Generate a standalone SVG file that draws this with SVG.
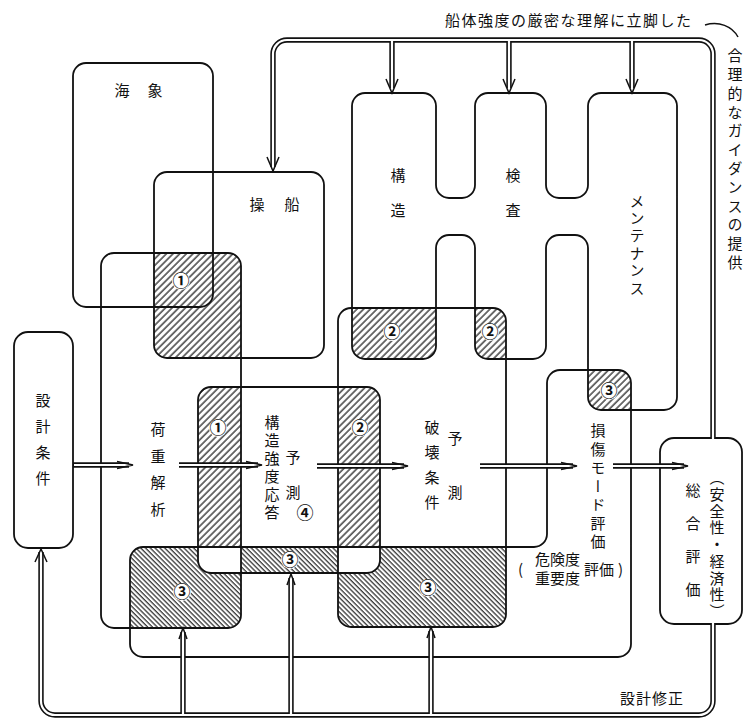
<svg xmlns="http://www.w3.org/2000/svg" xmlns:xlink="http://www.w3.org/1999/xlink" width="744" height="720" viewBox="0 0 744 720">
<style>
.box{fill:none;stroke:#111;stroke-width:1.8;}
.t{font-family:"Noto Sans CJK JP","Noto Sans CJK SC",sans-serif;fill:#111;font-size:15px;}
.v{writing-mode:vertical-rl;}
.n{font-size:17px;font-weight:bold;}
.dlo{fill:none;stroke:#111;stroke-width:5.4;}
.dli{fill:none;stroke:#fff;stroke-width:2.2;}
.ah{fill:none;stroke:#111;stroke-width:1.5;stroke-linejoin:miter;}
.cw{fill:#fff;}
</style>
<defs>
<pattern id="hA" patternUnits="userSpaceOnUse" width="4.7" height="4.7" patternTransform="rotate(45)">
<line x1="1" y1="0" x2="1" y2="4.7" stroke="#111" stroke-width="1.2"/>
</pattern>
<pattern id="hB" patternUnits="userSpaceOnUse" width="3.4" height="3.4" patternTransform="rotate(-45)">
<line x1="1" y1="0" x2="1" y2="3.4" stroke="#111" stroke-width="1.1"/>
</pattern>
<rect id="pA" x="73" y="63" width="140" height="244" rx="13"/>
<rect id="pB" x="154" y="172" width="170" height="186" rx="13"/>
<rect id="pC" x="101" y="253" width="140" height="375" rx="13"/>
<rect id="pD" x="198" y="387" width="182" height="186" rx="13"/>
<rect id="pG" x="338" y="308" width="168" height="319" rx="13"/>
<path id="pK" d="M352,106 A13,13 0 0 1 365,93 H423 A13,13 0 0 1 436,106 V185 A13,13 0 0 0 449,198 H462 A13,13 0 0 0 475,185 V106 A13,13 0 0 1 488,93 H533 A13,13 0 0 1 546,106 V185 A13,13 0 0 0 559,198 H575 A13,13 0 0 0 588,185 V106 A13,13 0 0 1 601,93 H664 A13,13 0 0 1 677,106 V397 A13,13 0 0 1 664,410 H601 A13,13 0 0 1 588,397 V248 A13,13 0 0 0 575,235 H559 A13,13 0 0 0 546,248 V346 A13,13 0 0 1 533,359 H488 A13,13 0 0 1 475,346 V248 A13,13 0 0 0 462,235 H449 A13,13 0 0 0 436,248 V346 A13,13 0 0 1 423,359 H365 A13,13 0 0 1 352,346 Z"/>
<path id="pE" d="M143,547 H534 A13,13 0 0 0 547,534 V383 A13,13 0 0 1 560,370 H618 A13,13 0 0 1 631,383 V644 A13,13 0 0 1 618,657 H143 A13,13 0 0 1 130,644 V560 A13,13 0 0 1 143,547 Z"/>
<clipPath id="cC"><use xlink:href="#pC"/></clipPath>
<clipPath id="cD"><use xlink:href="#pD"/></clipPath>
<clipPath id="cG"><use xlink:href="#pG"/></clipPath>
<clipPath id="cE"><use xlink:href="#pE"/></clipPath>
</defs>
<rect width="744" height="720" fill="#fff"/>

<g id="overlaps">
<g clip-path="url(#cC)"><use xlink:href="#pB" fill="url(#hA)"/><use xlink:href="#pD" fill="url(#hA)"/></g>
<g clip-path="url(#cG)"><use xlink:href="#pK" fill="url(#hA)"/><use xlink:href="#pD" fill="url(#hA)"/></g>
<g clip-path="url(#cE)"><use xlink:href="#pC" fill="url(#hB)"/><use xlink:href="#pD" fill="url(#hB)"/><use xlink:href="#pG" fill="url(#hB)"/><use xlink:href="#pK" fill="url(#hA)"/></g>
<g clip-path="url(#cE)"><g clip-path="url(#cD)"><use xlink:href="#pC" fill="#fff"/><use xlink:href="#pG" fill="#fff"/></g></g>
</g>

<g id="n-kaisho"><use xlink:href="#pA" class="box"/>
<text class="t" x="114.5" y="96" letter-spacing="18">海象</text></g>

<g id="n-sosen"><use xlink:href="#pB" class="box"/>
<text class="t" x="249.5" y="210" letter-spacing="20">操船</text></g>

<g id="n-kaju"><use xlink:href="#pC" class="box"/>
<text class="t v" x="158" y="422" letter-spacing="11.5">荷重解析</text></g>

<g id="n-kyodo"><use xlink:href="#pD" class="box"/>
<text class="t v" x="272" y="415" font-size="14" letter-spacing="3">構造強度応答</text>
<text class="t" x="285.5" y="463">予</text>
<text class="t" x="285.5" y="498">測</text></g>

<g id="n-hakai"><use xlink:href="#pG" class="box"/>
<text class="t v" x="432" y="419.5" letter-spacing="10">破壊条件</text>
<text class="t" x="447.5" y="444">予</text>
<text class="t" x="447.5" y="498">測</text></g>

<g id="n-kozo-kensa-maint"><use xlink:href="#pK" class="box"/>
<text class="t v" x="398" y="167.5" letter-spacing="20">構造</text>
<text class="t v" x="513" y="167.5" letter-spacing="20">検査</text>
<text class="t v" x="637" y="193.5" font-size="13" letter-spacing="2.4">メンテナンス</text></g>

<g id="n-sonsho"><use xlink:href="#pE" class="box"/>
<text class="t v" x="598" y="423" font-size="14" letter-spacing="3.5">損傷モード評価</text>
<text class="t" x="518" y="575" font-size="13">(</text>
<text class="t" x="535" y="565" font-size="12.5">危険度</text>
<text class="t" x="535" y="584" font-size="12.5">重要度</text>
<text class="t" x="584" y="575" font-size="13">評価</text>
<text class="t" x="618" y="575" font-size="13">)</text></g>

<g id="n-sekkei"><rect x="14" y="332" width="59" height="216" rx="14" class="box"/>
<text class="t v" x="43" y="392.5" letter-spacing="11">設計条件</text></g>

<g id="n-sogo"><rect x="660" y="438" width="82" height="186" rx="14" class="box"/>
<text class="t v" x="693" y="482.5" letter-spacing="18">総合評価</text>
<text class="t v" x="717" y="470" font-size="14" letter-spacing="1.75">（安全性・経済性）</text></g>

<g id="connectors">
<path class="dlo" d="M713,438 V54 A14,14 0 0 0 699,40 H287 A14,14 0 0 0 273,54 V167"/>
<path class="dlo" d="M392,40 V88 M509,40 V88 M632,40 V88"/>
<path class="dlo" d="M713,624 V701 A14,14 0 0 1 699,715 H55 A14,14 0 0 1 41,701 V552"/>
<path class="dlo" d="M183,715 V632 M291,715 V578 M431,715 V631"/>
<path class="dlo" d="M73,465 H129 M179,465 H258 M317,466 H404 M480,466 H573 M613,466 H684"/>
<path class="dli" d="M713,439 V54 A14,14 0 0 0 699,40 H287 A14,14 0 0 0 273,54 V167"/>
<path class="dli" d="M392,40 V88 M509,40 V88 M632,40 V88"/>
<path class="dli" d="M713,623 V701 A14,14 0 0 1 699,715 H55 A14,14 0 0 1 41,701 V552"/>
<path class="dli" d="M183,715 V632 M291,715 V578 M431,715 V631"/>
<path class="dli" d="M74,465 H129 M179,465 H258 M317,466 H404 M480,466 H573 M613,466 H684"/>
<path class="ah" d="M267,157 L273,171 L279,157 M386,79 L392,93 L398,79 M503,79 L509,93 L515,79 M626,79 L632,93 L638,79"/>
<path class="ah" d="M35,562 L41,549 L47,562"/>
<path class="ah" d="M179,639 L183,628 L187,639 M287,585 L291,574 L295,585 M427,638 L431,627 L435,638"/>
<path class="ah" d="M117,461.5 L133,465 L117,468.5 M246,461.5 L262,465 L246,468.5 M392,462.5 L408,466 L392,469.5 M561,462.5 L577,466 L561,469.5 M672,462.5 L688,466 L672,469.5"/>
</g>

<g id="labels">
<circle class="cw" cx="181" cy="281" r="9"/><text class="t n" x="181" y="287" text-anchor="middle">①</text>
<circle class="cw" cx="218" cy="428" r="9"/><text class="t n" x="218" y="434" text-anchor="middle">①</text>
<circle class="cw" cx="392" cy="332" r="9"/><text class="t n" x="392" y="338" text-anchor="middle">②</text>
<circle class="cw" cx="490" cy="332" r="9"/><text class="t n" x="490" y="338" text-anchor="middle">②</text>
<circle class="cw" cx="360" cy="428" r="9"/><text class="t n" x="360" y="434" text-anchor="middle">②</text>
<circle class="cw" cx="609" cy="391" r="9"/><text class="t n" x="609" y="397" text-anchor="middle">③</text>
<circle class="cw" cx="182" cy="592" r="9"/><text class="t n" x="182" y="598" text-anchor="middle">③</text>
<circle class="cw" cx="290" cy="560" r="9"/><text class="t n" x="290" y="566" text-anchor="middle">③</text>
<circle class="cw" cx="428" cy="588" r="9"/><text class="t n" x="428" y="594" text-anchor="middle">③</text>
<text class="t n" x="305" y="519" text-anchor="middle">④</text>
<text class="t" x="445" y="26" letter-spacing="1.5">船体強度の厳密な理解に立脚した</text>
<path d="M705,25 C719,21 732,26 738,37" fill="none" stroke="#111" stroke-width="1.5"/>
<text class="t v" x="735" y="48" font-size="13.5" letter-spacing="3.8">合理的なガイダンスの提供</text>
<text class="t" x="620" y="704" letter-spacing="1">設計修正</text>
</g>
</svg>
